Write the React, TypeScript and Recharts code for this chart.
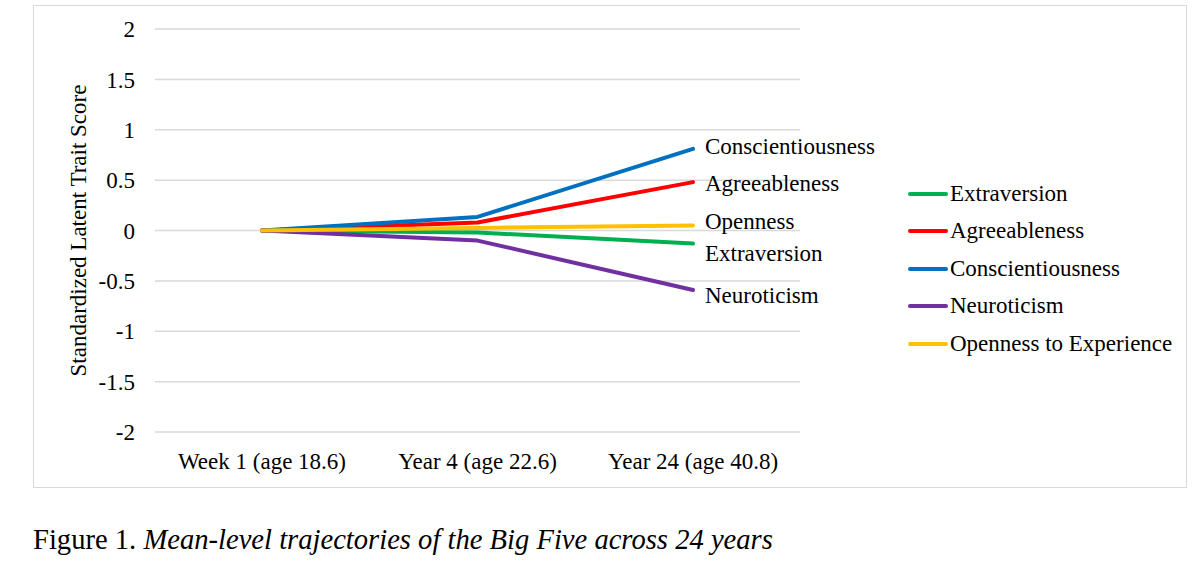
import React from 'react';
import { LineChart, Line, XAxis, YAxis, CartesianGrid } from 'recharts';

const categories = ['Week 1 (age 18.6)', 'Year 4 (age 22.6)', 'Year 24 (age 40.8)'];
const extraversion = [0, -0.02, -0.13];
const agreeableness = [0, 0.08, 0.48];
const conscientiousness = [0, 0.135, 0.81];
const neuroticism = [0, -0.1, -0.59];
const openness = [0, 0.025, 0.05];
const yTicks = [-2, -1.5, -1, -0.5, 0, 0.5, 1, 1.5, 2];

const FONT = '"Liberation Serif", "Times New Roman", serif';

const data = categories.map((c, i) => ({
  cat: c,
  extraversion: extraversion[i],
  agreeableness: agreeableness[i],
  conscientiousness: conscientiousness[i],
  neuroticism: neuroticism[i],
  openness: openness[i],
}));

// series in legend order; endLabel/dy = text drawn at the last point
const series = [
  { key: 'extraversion', name: 'Extraversion', endLabel: 'Extraversion', color: '#00b050', dy: 10 },
  { key: 'agreeableness', name: 'Agreeableness', endLabel: 'Agreeableness', color: '#ff0000', dy: 1 },
  { key: 'conscientiousness', name: 'Conscientiousness', endLabel: 'Conscientiousness', color: '#0070c0', dy: -2 },
  { key: 'neuroticism', name: 'Neuroticism', endLabel: 'Neuroticism', color: '#7030a0', dy: 6 },
  { key: 'openness', name: 'Openness to Experience', endLabel: 'Openness', color: '#ffc000', dy: -4 },
];

function LegendBox() {
  return (
    <div style={{ position: 'absolute', left: 908, top: 175, width: 280, fontFamily: FONT, fontSize: 23, color: '#000' }}>
      {series.map((s) => (
        <div key={s.key} style={{ display: 'flex', alignItems: 'center', height: 37.5 }}>
          <span style={{ display: 'inline-block', width: 40, height: 4, background: s.color, borderRadius: 2, marginRight: 2 }} />
          <span>{s.name}</span>
        </div>
      ))}
    </div>
  );
}

export default function App() {
  return (
    <div style={{ position: 'absolute', left: 0, top: 0, width: 1200, height: 575, background: '#fff' }}>
      <div style={{ position: 'absolute', left: 33, top: 5, width: 1152, height: 481, border: '1px solid #d9d9d9' }}>
        <LineChart
          width={1152}
          height={481}
          data={data}
          margin={{ top: 23, right: 386, bottom: 0, left: 0 }}
        >
          <CartesianGrid vertical={false} stroke="#d9d9d9" strokeWidth={1.5} />
          <XAxis
            dataKey="cat"
            axisLine={false}
            tickLine={false}
            height={55}
            interval={0}
            padding={{ left: 107, right: 107 }}
            tick={{ fontFamily: FONT, fontSize: 23, fill: '#000' }}
            tickMargin={15}
          />
          <YAxis
            width={121}
            domain={[-2, 2]}
            ticks={yTicks}
            axisLine={false}
            tickLine={false}
            tickMargin={14}
            tick={{ fontFamily: FONT, fontSize: 23, fill: '#000' }}
            label={{
              value: 'Standardized Latent Trait Score',
              angle: -90,
              position: 'insideLeft',
              offset: 44,
              style: { fontFamily: FONT, fontSize: 23, fill: '#000', textAnchor: 'middle' },
            }}
          />
          {series.map((s) => (
            <Line
              key={s.key}
              dataKey={s.key}
              name={s.name}
              stroke={s.color}
              strokeWidth={4}
              strokeLinecap="round"
              strokeLinejoin="round"
              dot={false}
              activeDot={false}
              isAnimationActive={false}
              label={(p: any) =>
                p.index === categories.length - 1 ? (
                  <text
                    key={s.key + '-lbl'}
                    x={p.x + 12}
                    y={p.y + s.dy}
                    dominantBaseline="central"
                    style={{ fontFamily: FONT, fontSize: 23, fill: '#000' }}
                  >
                    {s.endLabel}
                  </text>
                ) : (
                  <g key={s.key + '-' + p.index} />
                )
              }
            />
          ))}
        </LineChart>
      </div>
      <LegendBox />
      <div style={{ position: 'absolute', left: 33, top: 524, fontFamily: FONT, fontSize: 28.6, color: '#000' }}>
        Figure 1. <i>Mean-level trajectories of the Big Five across 24 years</i>
      </div>
    </div>
  );
}
